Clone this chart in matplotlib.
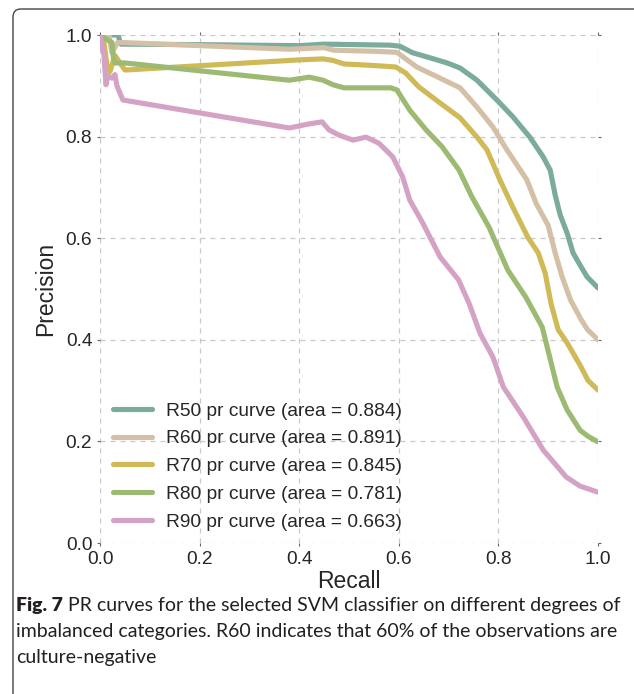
import matplotlib
matplotlib.use("Agg")
import matplotlib.pyplot as plt
from matplotlib.patches import FancyBboxPatch

# ---- data ----
labels = ["R50 pr curve (area = 0.884)", "R60 pr curve (area = 0.891)",
          "R70 pr curve (area = 0.845)", "R80 pr curve (area = 0.781)",
          "R90 pr curve (area = 0.663)"]
colors = ["#7aab9b", "#d4c0a6", "#d0ba58", "#9dba72", "#d4a2c4"]

r50_recall = [0.0, 0.036, 0.042, 0.2, 0.4, 0.45, 0.582, 0.602, 0.628, 0.663, 0.697,
              0.723, 0.757, 0.797, 0.829, 0.863, 0.890, 0.904, 0.914, 0.924, 0.938,
              0.950, 0.964, 0.978, 1.0]
r50_prec = [1.0, 1.0, 0.982, 0.981, 0.979, 0.982, 0.980, 0.978, 0.965, 0.955, 0.945,
            0.935, 0.911, 0.872, 0.839, 0.799, 0.760, 0.734, 0.685, 0.646, 0.610,
            0.571, 0.547, 0.524, 0.502]

r60_recall = [0.0, 0.018, 0.024, 0.035, 0.05, 0.38, 0.45, 0.47, 0.55, 0.596, 0.636,
              0.683, 0.723, 0.757, 0.789, 0.817, 0.857, 0.876, 0.9, 0.914, 0.928,
              0.945, 0.966, 0.979, 1.0]
r60_prec = [1.0, 1.0, 0.965, 0.985, 0.985, 0.972, 0.975, 0.970, 0.968, 0.966, 0.937,
            0.915, 0.896, 0.858, 0.819, 0.774, 0.715, 0.668, 0.625, 0.571, 0.524,
            0.478, 0.440, 0.420, 0.400]

r70_recall = [0.0, 0.006, 0.014, 0.02, 0.03, 0.05, 0.40, 0.448, 0.468, 0.49, 0.55,
              0.594, 0.614, 0.64, 0.675, 0.723, 0.757, 0.777, 0.803, 0.829, 0.859,
              0.880, 0.894, 0.906, 0.92, 0.938, 0.964, 0.98, 1.0]
r70_prec = [1.0, 1.0, 0.94, 0.928, 0.96, 0.931, 0.951, 0.953, 0.950, 0.943, 0.940,
            0.937, 0.925, 0.898, 0.872, 0.837, 0.799, 0.774, 0.715, 0.661, 0.602,
            0.571, 0.531, 0.470, 0.420, 0.394, 0.350, 0.320, 0.301]

r80_recall = [0.0, 0.024, 0.027, 0.03, 0.05, 0.38, 0.42, 0.448, 0.468, 0.49, 0.538,
              0.584, 0.596, 0.622, 0.655, 0.687, 0.721, 0.747, 0.781, 0.819, 0.855,
              0.888, 0.902, 0.918, 0.938, 0.964, 0.98, 1.0]
r80_prec = [1.0, 0.985, 0.955, 0.945, 0.945, 0.911, 0.917, 0.911, 0.902, 0.896, 0.896,
            0.896, 0.892, 0.852, 0.813, 0.780, 0.734, 0.681, 0.622, 0.537, 0.484,
            0.425, 0.370, 0.307, 0.262, 0.222, 0.210, 0.199]

r90_recall = [0.0, 0.008, 0.012, 0.016, 0.024, 0.03, 0.034, 0.046, 0.38, 0.42, 0.446,
              0.46, 0.48, 0.508, 0.534, 0.56, 0.588, 0.608, 0.622, 0.648, 0.683,
              0.72, 0.741, 0.763, 0.789, 0.81, 0.85, 0.89, 0.91, 0.936, 0.964, 1.0]
r90_prec = [1.0, 0.96, 0.902, 0.92, 0.915, 0.922, 0.90, 0.872, 0.817, 0.825, 0.829,
            0.813, 0.803, 0.793, 0.799, 0.787, 0.760, 0.720, 0.675, 0.630, 0.563,
            0.518, 0.472, 0.413, 0.366, 0.307, 0.248, 0.183, 0.160, 0.130, 0.112, 0.100]

series = [(r50_recall, r50_prec), (r60_recall, r60_prec), (r70_recall, r70_prec),
          (r80_recall, r80_prec), (r90_recall, r90_prec)]

ticks = [0.0, 0.2, 0.4, 0.6, 0.8, 1.0]
tick_labels = ["0.0", "0.2", "0.4", "0.6", "0.8", "1.0"]
caption_bold = "Fig. 7"
caption_lines = [
    "PR curves for the selected SVM classifier on different degrees of",
    "imbalanced categories. R60 indicates that 60% of the observations are",
    "culture-negative",
]

# ---- figure ----
W, H = 634, 694
fig = plt.figure(figsize=(W / 100, H / 100), dpi=100)
fig.patch.set_facecolor("white")

frame = FancyBboxPatch((13 / W, -0.1), 1.2, (694 - 9) / H + 0.1,
                       boxstyle="round,pad=0,rounding_size=0.012",
                       transform=fig.transFigure, fill=False,
                       edgecolor="#444444", linewidth=1.0)
fig.patches.append(frame)

ax = fig.add_axes([100 / W, (H - 543) / H, 498 / W, 508 / H])
font = "Liberation Sans"

for (x, y), c, lab in zip(series, colors, labels):
    ax.plot(x, y, color=c, linewidth=3.7, label=lab, solid_capstyle="round",
            solid_joinstyle="round")

ax.set_xlim(0, 1.0)
ax.set_ylim(0, 1.0)
ax.set_xticks(ticks)
ax.set_yticks(ticks)
ax.set_xticklabels(tick_labels, fontsize=13.8, fontname=font, color="#262626")
ax.set_yticklabels(tick_labels, fontsize=13.8, fontname=font, color="#262626")
ax.tick_params(direction="out", length=2.5, width=0.8, color="#666666",
               top=True, right=True, pad=3)
for s in ax.spines.values():
    s.set_visible(False)
ax.grid(True, linestyle=(0, (4, 4)), color="#c8c8c8", linewidth=0.9)
ax.set_axisbelow(True)

ax.set_xlabel("Recall", fontsize=16.5, fontname=font, color="#262626", labelpad=2)
ax.set_ylabel("Precision", fontsize=16.5, fontname=font, color="#262626", labelpad=6)

leg = ax.legend(loc="lower left", bbox_to_anchor=(0.0, -0.002), frameon=False,
                prop={"family": font, "size": 13.8}, handlelength=2.0,
                handletextpad=0.75, labelspacing=0.54, borderaxespad=0.3)
for t in leg.get_texts():
    t.set_color("#262626")

# caption, fitted to the reference line width
cap_font = "Lato"
renderer = fig.canvas.get_renderer()
probe = fig.text(0, 0, caption_lines[1], fontsize=12, fontname=cap_font)
w12 = probe.get_window_extent(renderer).width
probe.remove()
cap_size = 12 * 598 / w12
ys = [606, 632, 658]
tb = fig.text(16 / W, 1 - ys[0] / H, caption_bold, fontsize=cap_size, fontname=cap_font,
              fontweight="heavy", va="center", ha="left", color="#231f20")
bw = tb.get_window_extent(renderer).x1
fig.text((bw + 5) / W, 1 - ys[0] / H, caption_lines[0], fontsize=cap_size,
         fontname=cap_font, va="center", ha="left", color="#231f20")
for line, yy in zip(caption_lines[1:], ys[1:]):
    fig.text(16 / W, 1 - yy / H, line, fontsize=cap_size, fontname=cap_font,
             va="center", ha="left", color="#231f20")

fig.savefig("out.png", dpi=100, facecolor="white")
